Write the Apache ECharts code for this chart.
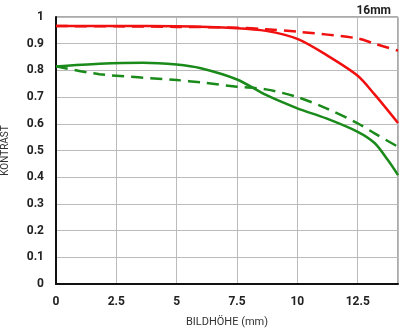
<!DOCTYPE html>
<html>
<head>
  <meta charset="utf-8">
  <title>16mm MTF</title>
</head>
<body style="margin: 0">
  <div id="container" style="width: 400px; height: 329px;"></div>
  <script src="https://cdn.jsdelivr.net/npm/echarts@6/dist/echarts.min.js"></script>
  <script>
    // Bildhöhe (mm) / Kontrast
    var redSolid = [[0, 0.966], [2.5, 0.966], [5, 0.965], [7.5, 0.958], [8.7, 0.948], [10, 0.918], [11.2, 0.858], [12.5, 0.78], [13.2, 0.71], [14.17, 0.603]];
    var redDashed = [[0, 0.966], [2.5, 0.965], [5, 0.963], [7.5, 0.96], [8.7, 0.954], [10, 0.945], [12.5, 0.92], [13.2, 0.9], [14.17, 0.874]];
    var greenSolid = [[0, 0.815], [1.8, 0.825], [3.6, 0.829], [5, 0.822], [6, 0.808], [7.5, 0.766], [8.7, 0.708], [10, 0.658], [11.2, 0.62], [12.5, 0.57], [13.2, 0.528], [13.75, 0.464], [14.17, 0.408]];
    var greenDashed = [[0, 0.815], [1.8, 0.786], [5, 0.764], [6, 0.755], [7.5, 0.739], [8.7, 0.729], [10, 0.7], [11.2, 0.658], [12.5, 0.602], [13.2, 0.564], [14.17, 0.514]];
    var xTicks = [0, 2.5, 5, 7.5, 10, 12.5];

    var chart = echarts.init(document.getElementById('container'), null, { renderer: 'canvas' });

    var labelFont = { color: '#222', fontSize: 12, fontWeight: 'bold', fontFamily: 'Roboto, sans-serif' };

    function line(data, color, dashed) {
      return {
        type: 'line',
        data: data,
        smooth: 0.3,
        symbol: 'none',
        silent: true,
        lineStyle: { color: color, width: 2.5, type: dashed ? [12, 7] : 'solid' }
      };
    }

    chart.setOption({
      animation: false,
      grid: { left: 56, right: 2, top: 17, bottom: 45, show: true, borderColor: '#555', borderWidth: 1, outerBoundsMode: 'none', containLabel: false },
      title: {
        text: '16mm', right: 4, top: 0,
        textStyle: { fontSize: 12, fontWeight: 'bold', color: '#222', fontFamily: 'Roboto, sans-serif' }
      },
      xAxis: {
        type: 'value', min: 0, max: 14.17, interval: 2.5,
        name: 'BILDHÖHE (mm)', nameLocation: 'center', nameGap: 33,
        nameTextStyle: { fontSize: 11, color: '#333', fontFamily: 'Roboto, sans-serif' },
        axisLine: { lineStyle: { color: '#111', width: 2 } },
        axisTick: { show: false },
        axisLabel: Object.assign({ margin: 12, showMaxLabel: false,
          formatter: function (v) { return xTicks.indexOf(v) >= 0 ? String(v) : ''; } }, labelFont),
        splitLine: { lineStyle: { color: '#bbb', width: 1 } }
      },
      yAxis: {
        type: 'value', min: 0, max: 1, interval: 0.1,
        name: 'KONTRAST', nameLocation: 'center', nameGap: 46,
        nameTextStyle: { fontSize: 10, color: '#333', fontFamily: 'Roboto, sans-serif' },
        axisLine: { show: true, lineStyle: { color: '#111', width: 2 } },
        axisTick: { show: false },
        axisLabel: Object.assign({ margin: 12,
          formatter: function (v) { return String(Math.round(v * 10) / 10); } }, labelFont),
        splitLine: { lineStyle: { color: '#bbb', width: 1 } }
      },
      series: [
        line(redDashed, '#f01010', true),
        line(redSolid, '#f01010', false),
        line(greenDashed, '#1a8a1a', true),
        line(greenSolid, '#1a8a1a', false)
      ]
    });
  </script>
</body>
</html>
